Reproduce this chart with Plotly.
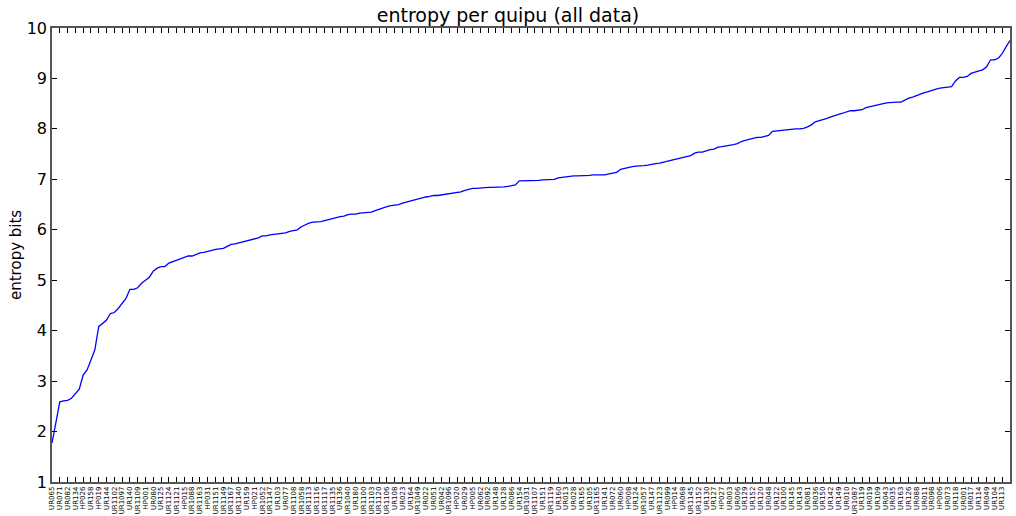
import plotly.graph_objects as go

quipu_labels = [
    "UR065", "UR071", "UR082", "UR134", "HP026", "UR158", "HP019", "UR144", "UR1102", "UR1097",
    "UR140", "UR1109", "HP001", "UR080", "UR125", "UR1124", "UR1121", "HP015", "UR1088", "UR1163",
    "HP031", "UR1151", "UR1149", "UR1167", "UR1140", "UR159", "HP021", "UR1052", "UR1147", "UR103",
    "UR077", "UR1108", "UR1058", "UR1113", "UR1116", "UR1117", "UR1135", "UR136", "UR1040", "UR180",
    "UR1100", "UR1103", "UR1120", "UR1106", "UR108", "UR023", "UR164", "UR1049", "UR022", "UR051",
    "UR042", "UR1096", "HP020", "UR029", "HP005", "UR062", "UR092", "UR148", "UR128", "UR086",
    "UR154", "UR1031", "UR1107", "UR151", "UR1119", "UR160", "UR013", "UR028", "UR165", "UR105",
    "UR1165", "UR141", "UR072", "UR060", "HP008", "UR124", "UR1057", "UR147", "UR1123", "UR099",
    "HP014", "UR068", "UR1145", "UR1152", "UR130", "UR127", "HP027", "UR003", "UR006", "UR129",
    "UR152", "UR120", "UR048", "UR122", "UR100", "UR145", "UR143", "UR081", "UR036", "UR150",
    "UR142", "UR149", "UR010", "UR1087", "UR119", "UR019", "UR109", "UR043", "UR035", "UR163",
    "UR126", "UR088", "UR011", "UR098", "HP006", "UR073", "UR118", "UR001", "UR017", "UR114",
    "UR049", "UR104", "UR113",
]

entropy_low = [
    1.77, 2.20, 2.59, 2.61, 2.62, 2.66, 2.76, 2.84, 3.12, 3.22,
    3.42, 3.62, 4.08, 4.15, 4.21, 4.34, 4.36, 4.44, 4.53, 4.64,
    4.82, 4.82, 4.85, 4.94, 5.00, 5.06, 5.18, 5.24, 5.27, 5.27,
    5.34, 5.37, 5.39, 5.42, 5.46,
]
entropy_mid1 = [
    5.48, 5.48, 5.51, 5.54, 5.55, 5.57, 5.60, 5.61, 5.62, 5.63,
    5.67, 5.71, 5.72, 5.74, 5.76, 5.77, 5.80, 5.82, 5.84, 5.88,
    5.88, 5.90, 5.91, 5.92, 5.94, 5.94, 5.97, 5.98, 6.00, 6.06,
    6.10, 6.13, 6.15, 6.15, 6.16, 6.18, 6.20, 6.22, 6.25, 6.26,
    6.27, 6.30, 6.31, 6.31, 6.33, 6.34, 6.35, 6.35, 6.38, 6.41,
    6.43, 6.46, 6.48, 6.49, 6.50, 6.53, 6.55, 6.58, 6.59, 6.61,
]
entropy_mid2 = [
    6.63, 6.65, 6.66, 6.68, 6.68, 6.69, 6.70, 6.71, 6.72, 6.74,
    6.75, 6.78, 6.80, 6.82, 6.82, 6.83, 6.83, 6.84, 6.84, 6.84,
    6.85, 6.85, 6.86, 6.87, 6.89, 6.97, 6.97, 6.97, 6.97, 6.98,
    6.98, 6.99, 6.99, 7.00, 7.00, 7.03, 7.04, 7.05, 7.07, 7.07,
    7.07, 7.07, 7.08, 7.08, 7.09, 7.09, 7.09, 7.09, 7.11, 7.13,
    7.14, 7.20, 7.22, 7.24, 7.25, 7.26, 7.26, 7.27, 7.28, 7.30,
    7.31, 7.32, 7.34, 7.36, 7.38, 7.39, 7.41, 7.43, 7.45, 7.47,
]
entropy_high = [
    7.52, 7.54, 7.54, 7.57, 7.59, 7.60, 7.64, 7.65, 7.66, 7.68,
    7.69, 7.71, 7.75, 7.77, 7.79, 7.82, 7.83, 7.83, 7.85, 7.87,
    7.95, 7.96, 7.97, 7.98, 7.99, 7.99, 8.00, 8.00, 8.01, 8.04,
    8.08, 8.14, 8.16, 8.19, 8.21, 8.24, 8.27, 8.29, 8.31, 8.34,
    8.36, 8.36, 8.37, 8.38, 8.42, 8.44, 8.46, 8.47, 8.49, 8.51,
    8.52, 8.53, 8.53, 8.53, 8.57, 8.61, 8.63, 8.66, 8.70, 8.72,
    8.74, 8.77, 8.79, 8.81, 8.82, 8.83, 8.84, 8.95, 9.02, 9.02,
    9.04, 9.10, 9.13, 9.15, 9.17, 9.23, 9.37, 9.37, 9.40, 9.49,
    9.63, 9.75,
]

entropy_bits = entropy_low + entropy_mid1 + entropy_mid2 + entropy_high
x_index = list(range(len(entropy_bits)))
tick_positions = [2 * k for k in range(len(quipu_labels))]

FONT = "DejaVu Sans"

fig = go.Figure()
fig.add_trace(go.Scatter(
    x=x_index, y=entropy_bits, mode="lines",
    line=dict(color="#0000ff", width=1.3),
    showlegend=False, hoverinfo="skip",
))

fig.update_layout(
    width=1016, height=516,
    margin=dict(l=52, r=6, t=28, b=34, autoexpand=False),
    paper_bgcolor="white", plot_bgcolor="white",
    font=dict(family=FONT, color="#000000"),
    title=dict(text="entropy per quipu (all data)", x=0.5, xanchor="center",
               y=1 - 15 / 516, yanchor="middle", yref="container",
               font=dict(family=FONT, size=19, color="#000000")),
    annotations=[dict(text="entropy bits", textangle=-90, xref="paper", yref="paper",
                      x=(16 - 52) / 958, y=0.5, xanchor="center", yanchor="middle",
                      showarrow=False, font=dict(family=FONT, size=15, color="#000000"))],
)

fig.update_xaxes(
    range=[0, len(entropy_bits) - 1],
    tickmode="array", tickvals=tick_positions, ticktext=quipu_labels,
    tickangle=-90, tickfont=dict(family=FONT, size=7, color="#000000"),
    ticks="inside", ticklen=5, tickwidth=1, tickcolor="#000000",
    showline=True, linecolor="#555555", linewidth=1.5, mirror="ticks",
    showgrid=False, zeroline=False, automargin=False,
)
fig.update_yaxes(
    range=[1, 10], tickmode="array", tickvals=list(range(1, 11)),
    tickfont=dict(family=FONT, size=16, color="#000000"),
    ticks="inside", ticklen=5, tickwidth=1, tickcolor="#000000",
    showline=True, linecolor="#555555", linewidth=1.5, mirror="ticks",
    showgrid=False, zeroline=False, automargin=False,
)

fig.write_html(
    "out.html",
    config={"displayModeBar": False},
    post_script="document.body.style.margin='0';document.body.style.overflow='hidden';",
)
